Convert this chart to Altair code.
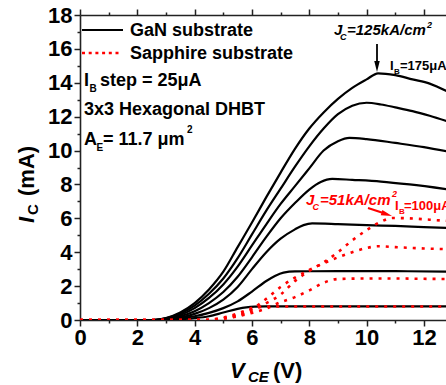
import altair as alt
import pandas as pd

FONT = "Liberation Sans"
RED = "#ff0000"

# ---- GaN substrate, I_B = 25 ... 175 uA (solid black) ----
gan_25_v = [0, 2.7, 3.0, 3.5, 4.0, 4.5, 5.0, 5.5, 5.8, 6.1, 6.5, 8.0, 10.0, 12.8]
gan_25_i = [0, 0, 0.02, 0.05, 0.11, 0.22, 0.44, 0.66, 0.75, 0.79, 0.80, 0.81, 0.81, 0.81]

gan_50_v = [0, 2.65, 3.0, 3.5, 4.0, 4.5, 5.0, 5.5, 6.0, 6.5, 6.8, 7.1, 7.5, 9.0, 11.0, 12.8]
gan_50_i = [0, 0, 0.03, 0.10, 0.22, 0.42, 0.70, 1.10, 1.68, 2.30, 2.60, 2.80, 2.87, 2.88, 2.88, 2.86]

gan_75_v = [0, 2.6, 3.0, 3.5, 4.0, 4.5, 5.0, 5.5, 6.0, 6.5, 7.0, 7.5, 7.8, 8.1, 9.0, 10.0, 11.0, 12.0, 12.8]
gan_75_i = [0, 0, 0.04, 0.15, 0.36, 0.70, 1.20, 1.95, 3.00, 4.00, 4.80, 5.35, 5.60, 5.70, 5.66, 5.60, 5.55, 5.48, 5.43]

gan_100_v = [0, 2.6, 3.0, 3.5, 4.0, 4.5, 5.0, 5.5, 6.0, 6.5, 7.0, 7.5, 8.0, 8.4, 8.8, 9.5, 10.5, 11.5, 12.8]
gan_100_i = [0, 0, 0.06, 0.22, 0.52, 1.00, 1.65, 2.55, 3.70, 4.90, 6.00, 6.90, 7.70, 8.15, 8.33, 8.27, 8.17, 8.00, 7.72]

gan_125_v = [0, 2.55, 3.0, 3.5, 4.0, 4.5, 5.0, 5.5, 6.0, 6.5, 7.0, 7.5, 8.0, 8.5, 9.0, 9.4, 10.0, 11.0, 12.0, 12.8]
gan_125_i = [0, 0, 0.08, 0.30, 0.70, 1.30, 2.10, 3.15, 4.40, 5.65, 6.85, 7.90, 8.95, 10.00, 10.55, 10.75, 10.68, 10.45, 10.20, 9.95]

gan_150_v = [0, 2.5, 3.0, 3.5, 4.0, 4.5, 5.0, 5.5, 6.0, 6.5, 7.0, 7.5, 8.0, 8.5, 9.0, 9.5, 10.0, 10.5, 11.0, 11.6, 12.2, 12.8]
gan_150_i = [0, 0, 0.10, 0.38, 0.85, 1.55, 2.45, 3.65, 5.05, 6.45, 7.75, 9.05, 10.25, 11.30, 12.15, 12.65, 12.82, 12.72, 12.55, 12.33, 12.05, 11.73]

gan_175_v = [0, 2.5, 3.0, 3.5, 4.0, 4.5, 5.0, 5.5, 6.0, 6.5, 7.0, 7.5, 8.0, 8.5, 9.0, 9.5, 10.0, 10.4, 11.0, 11.6, 12.2, 12.8]
gan_175_i = [0, 0, 0.12, 0.45, 1.00, 1.80, 2.85, 4.30, 5.75, 7.25, 8.70, 10.10, 11.30, 12.25, 13.05, 13.70, 14.20, 14.56, 14.45, 14.20, 13.95, 13.50]

# ---- Sapphire substrate, I_B = 25 ... 100 uA (red dotted) ----
sap_25_v = [0, 4.3, 4.8, 5.2, 5.6, 6.0, 6.4, 7.0, 9.0, 11.0, 12.8]
sap_25_i = [0, 0, 0.08, 0.22, 0.45, 0.70, 0.78, 0.80, 0.80, 0.80, 0.80]

sap_50_v = [0, 4.4, 5.0, 5.5, 6.0, 6.5, 7.0, 7.5, 8.0, 8.5, 9.0, 10.0, 11.0, 12.0, 12.8]
sap_50_i = [0, 0, 0.08, 0.22, 0.42, 0.68, 1.05, 1.35, 1.75, 2.20, 2.42, 2.45, 2.45, 2.43, 2.42]

sap_75_v = [0, 4.5, 5.0, 5.5, 6.0, 6.5, 7.0, 7.5, 8.0, 8.5, 9.0, 9.5, 10.0, 10.4, 11.0, 12.0, 12.8]
sap_75_i = [0, 0, 0.10, 0.30, 0.65, 1.25, 1.95, 2.50, 2.95, 3.35, 3.70, 4.00, 4.25, 4.35, 4.30, 4.22, 4.18]

sap_100_v = [0, 4.6, 5.0, 5.5, 6.0, 6.5, 7.0, 7.5, 8.0, 8.5, 9.0, 9.5, 10.0, 10.5, 10.9, 11.5, 12.2, 12.8]
sap_100_i = [0, 0, 0.08, 0.25, 0.55, 1.00, 1.50, 2.30, 2.90, 3.40, 4.00, 4.70, 5.30, 5.80, 6.02, 6.00, 5.92, 5.85]

x_ticks = list(range(0, 13))
y_ticks = list(range(0, 19))

# plot-area origin inside the page (annotation positions are given in page pixels)
OX, OY = 80, 15


def family(curves):
    rows = []
    for ib, vs, cs in curves:
        for v, c in zip(vs, cs):
            rows.append({"ib": ib, "vce": v, "ic": c})
    return pd.DataFrame(rows)


gan_df = family([
    (25, gan_25_v, gan_25_i), (50, gan_50_v, gan_50_i), (75, gan_75_v, gan_75_i),
    (100, gan_100_v, gan_100_i), (125, gan_125_v, gan_125_i),
    (150, gan_150_v, gan_150_i), (175, gan_175_v, gan_175_i),
])
sap_df = family([
    (25, sap_25_v, sap_25_i), (50, sap_50_v, sap_50_i),
    (75, sap_75_v, sap_75_i), (100, sap_100_v, sap_100_i),
])

x_scale = alt.Scale(domain=[0, 12.77], nice=False, zero=False)
y_scale = alt.Scale(domain=[0, 18], nice=False)

minor_size = {"condition": {"test": "datum.value % 2 == 1", "value": 3}, "value": 6}
even_only = "datum.value % 2 == 0 ? datum.label : ''"

axis_style = dict(
    grid=False, title=None, domainColor="#222", domainWidth=1.6,
    tickColor="#222", tickWidth=1.5, labelOverlap=False, labelFlush=False,
    labelFont=FONT, labelFontWeight="bold", labelFontSize=22, labelColor="black",
)

x_bottom = alt.Axis(orient="bottom", values=x_ticks, labelExpr=even_only,
                    tickSize=minor_size, labelPadding=1, **axis_style)
x_top = alt.Axis(orient="top", values=x_ticks, labels=False,
                 tickSize=minor_size, **axis_style)
y_left = alt.Axis(orient="left", values=y_ticks, labelExpr=even_only,
                  tickSize=minor_size, labelPadding=2, **axis_style)

gan = alt.Chart(gan_df).mark_line(
    color="black", strokeWidth=2.2, interpolate="monotone", clip=True
).encode(
    x=alt.X("vce:Q", scale=x_scale, axis=x_bottom),
    y=alt.Y("ic:Q", scale=y_scale, axis=y_left),
    detail="ib:N",
)

sap = alt.Chart(sap_df).mark_line(
    color=RED, strokeWidth=2.6, strokeDash=[3, 6], interpolate="monotone", clip=True
).encode(
    x=alt.X("vce:Q", scale=x_scale, axis=x_top),
    y=alt.Y("ic:Q", scale=y_scale, axis=y_left),
    detail="ib:N",
)

one = pd.DataFrame({"k": [0]})


def label(txt, x, y, size, color="black", style="normal", angle=0):
    return alt.Chart(pd.DataFrame({"t": [txt]})).mark_text(
        align="left", baseline="alphabetic", font=FONT, fontSize=size,
        fontWeight="bold", fontStyle=style, color=color, angle=angle,
    ).encode(x=alt.value(x - OX), y=alt.value(y - OY), text="t:N")


def hline(x1, x2, y, color, width, dash=None):
    kw = {"strokeDash": dash} if dash else {}
    return alt.Chart(one).mark_rule(color=color, strokeWidth=width, **kw).encode(
        x=alt.value(x1 - OX), x2=alt.value(x2 - OX), y=alt.value(y - OY))


def segment(x1, y1, x2, y2, color, width):
    return alt.Chart(one).mark_rule(color=color, strokeWidth=width).encode(
        x=alt.value(x1 - OX), x2=alt.value(x2 - OX),
        y=alt.value(y1 - OY), y2=alt.value(y2 - OY))


HEAD = "M -0.5 -1 L 0.5 -1 L 0 1 Z"


def head(x, y, color, angle=0):
    return alt.Chart(one).mark_point(
        shape=HEAD, filled=True, size=121, color=color, opacity=1,
        strokeWidth=0, angle=angle,
    ).encode(x=alt.value(x - OX), y=alt.value(y - OY))


layers = [
    gan, sap,
    # legend
    hline(82, 123, 30, "black", 2.2),
    label("GaN substrate", 130, 36, 18),
    hline(82, 120, 53, RED, 2.6, [3, 3.7]),
    label("Sapphire substrate", 130, 59, 18),
    # device notes
    label("I", 84, 86, 18), label("B", 89.5, 92, 10), label("step = 25\u03bcA", 100, 86, 18),
    label("3x3 Hexagonal DHBT", 84, 115, 18),
    label("A", 84, 145, 18), label("E", 96.5, 151, 10), label("= 11.7 \u03bcm", 103, 145, 18),
    label("2", 187, 133, 10),
    # GaN peak annotation
    label("J", 334, 35, 15, style="italic"), label("C", 340, 40, 9, style="italic"),
    label("=125kA/cm", 347, 35, 15, style="italic"), label("2", 427, 28, 9, style="italic"),
    segment(377, 44, 377, 62, "black", 1.8),
    head(377, 66.5, "black"),
    label("I", 390, 70, 13), label("B", 394, 74, 8), label("=175\u03bcA", 400, 70, 13),
    # Sapphire peak annotation
    label("J", 306, 205, 15, color=RED, style="italic"),
    label("C", 312.5, 210, 9, color=RED, style="italic"),
    label("=51kA/cm", 320, 205, 15, color=RED, style="italic"),
    label("2", 392, 197, 9, color=RED, style="italic"),
    segment(368, 208, 382.5, 212.8, RED, 2),
    head(386.8, 214.3, RED, angle=288),
    label("I", 395, 210, 13, color=RED), label("B", 399, 214, 8, color=RED),
    label("=100\u03bcA", 404, 210, 13, color=RED),
    # axis titles
    label("V", 230, 378, 22, style="italic"),
    label("CE", 248, 382, 15, style="italic"),
    label("(V)", 273, 378, 22),
    label("I", 33.5, 223, 22, style="italic", angle=270),
    label("C", 37.5, 215, 15, angle=270),
    label("(mA)", 33.5, 196, 22, angle=270),
]

chart = alt.layer(*layers).resolve_axis(x="independent").properties(
    width=366, height=305,
    padding={"left": OX, "top": OY, "right": 0, "bottom": 65},
    autosize="none", background="white",
).configure_view(stroke=None)

chart.save("out.html", embed_options={"renderer": "svg", "actions": False})
